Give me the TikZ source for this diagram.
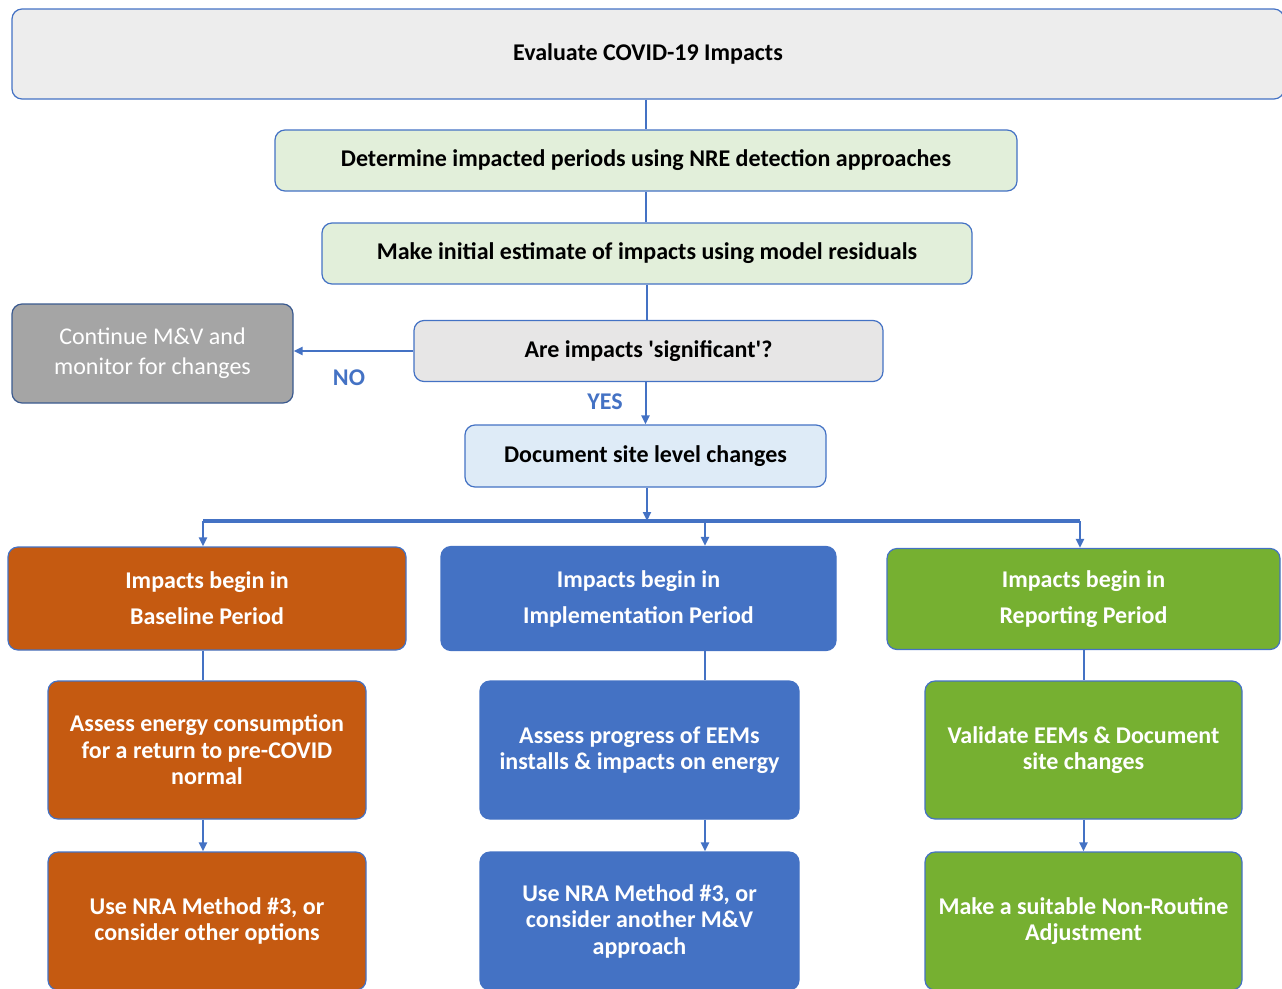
\documentclass[tikz,border=0pt]{standalone}
\usepackage{fontspec}
\setmainfont{Carlito}
\usetikzlibrary{arrows.meta}
\definecolor{mvblue}{HTML}{4472C4}
\definecolor{mvorange}{HTML}{C55A11}
\definecolor{mvgreen}{HTML}{76B031}
\definecolor{lgreen}{HTML}{E2EFDA}
\definecolor{lblue}{HTML}{DEEBF7}
\definecolor{lgray}{HTML}{EDEDED}
\definecolor{mgray}{HTML}{E7E6E6}
\definecolor{dgray}{HTML}{A5A5A5}
\definecolor{gborder}{HTML}{3B5A8F}

\begin{document}
\begin{tikzpicture}[x=1pt,y=-1pt,
  box/.style={draw=mvblue, line width=1.2pt, rounded corners=10pt, align=center,
    inner sep=0pt, font=\fontsize{24}{26.5}\selectfont\bfseries},
  period/.style={box, text=white, font=\fontsize{24}{36}\selectfont\bfseries},
  action/.style={box, text=white},
  link/.style={mvblue, line width=2pt},
  arrow/.style={link, -{Triangle[length=9pt,width=8pt]}},
  answer/.style={text=mvblue, font=\fontsize{24}{26}\selectfont\bfseries}]
\clip (0,0) rectangle (1282,988);
\node[box, fill=lgray, minimum width=1272, minimum height=90] (eval) at (648,54) {Evaluate COVID-19 Impacts};
\node[box, fill=lgreen, minimum width=742, minimum height=61] (detect) at (646,160.5) {Determine impacted periods using NRE detection approaches};
\node[box, fill=lgreen, minimum width=650, minimum height=61] (estimate) at (647,253.5) {Make initial estimate of impacts using model residuals};
\node[box, fill=mgray, minimum width=469, minimum height=61] (signif) at (648.5,351) {Are impacts \textquotesingle significant\textquotesingle?};
\node[box, fill=dgray, draw=gborder, text=white, minimum width=281, minimum height=99,
  font=\fontsize{24}{30}\selectfont] (cont) at (152.5,353.5) {Continue M\&V and\\monitor for changes};
\node[box, fill=lblue, minimum width=361, minimum height=62] (doc) at (645.5,456) {Document site level changes};
\node[period, fill=mvorange, minimum width=398, minimum height=103] (base) at (207,598.5) {Impacts begin in\\Baseline Period};
\node[period, fill=mvblue, minimum width=395, minimum height=104] (impl) at (638.5,598.5) {Impacts begin in\\Implementation Period};
\node[period, fill=mvgreen, minimum width=393, minimum height=101] (rep) at (1083.5,599) {Impacts begin in\\Reporting Period};
\node[action, fill=mvorange, minimum width=318, minimum height=138] (assessE) at (207,750) {Assess energy consumption\\for a return to pre-COVID\\normal};
\node[action, fill=mvblue, minimum width=319, minimum height=138] (assessP) at (639.5,750) {Assess progress of EEMs\\installs \& impacts on energy};
\node[action, fill=mvgreen, minimum width=317, minimum height=138] (validate) at (1083.5,750) {Validate EEMs \& Document\\site changes};
\node[action, fill=mvorange, minimum width=318, minimum height=138] (nraA) at (207,921) {Use NRA Method \#3, or\\consider other options};
\node[action, fill=mvblue, minimum width=319, minimum height=138] (nraB) at (639.5,921) {Use NRA Method \#3, or\\consider another M\&V\\approach};
\node[action, fill=mvgreen, minimum width=317, minimum height=138] (adjust) at (1083.5,921) {Make a suitable Non-Routine\\Adjustment};
\node[answer] (no) at (349,378) {NO};
\node[answer] (yes) at (605,402) {YES};
% bus
\coordinate (hub) at (647,521);
\coordinate (busA) at (203,521);
\coordinate (busB) at (705,521);
\coordinate (busC) at (1080,521);
\draw[link] (detect.north |- eval.south) -- (detect.north);
\draw[link] (detect.south) -- (estimate.north -| detect.south);
\draw[link] (estimate.south) -- (signif.north -| estimate.south);
\draw[arrow] (signif.west) -- (cont.east |- signif.west);
\draw[arrow] (signif.south -| doc.north) -- (doc.north);
\draw[arrow] (doc.south -| hub) -- (hub);
\draw[link, line width=3.5pt] (busA) -- (busC);
\draw[arrow] (busA) -- (base.north -| busA);
\draw[arrow] (busB) -- (impl.north -| busB);
\draw[arrow] (busC) -- (rep.north -| busC);
\draw[link] (base.south -| busA) -- (assessE.north -| busA);
\draw[link] (impl.south -| busB) -- (assessP.north -| busB);
\draw[link] (rep.south) -- (validate.north);
\draw[arrow] (assessE.south -| busA) -- (nraA.north -| busA);
\draw[arrow] (assessP.south -| busB) -- (nraB.north -| busB);
\draw[arrow] (validate.south) -- (adjust.north);
\end{tikzpicture}
\end{document}
